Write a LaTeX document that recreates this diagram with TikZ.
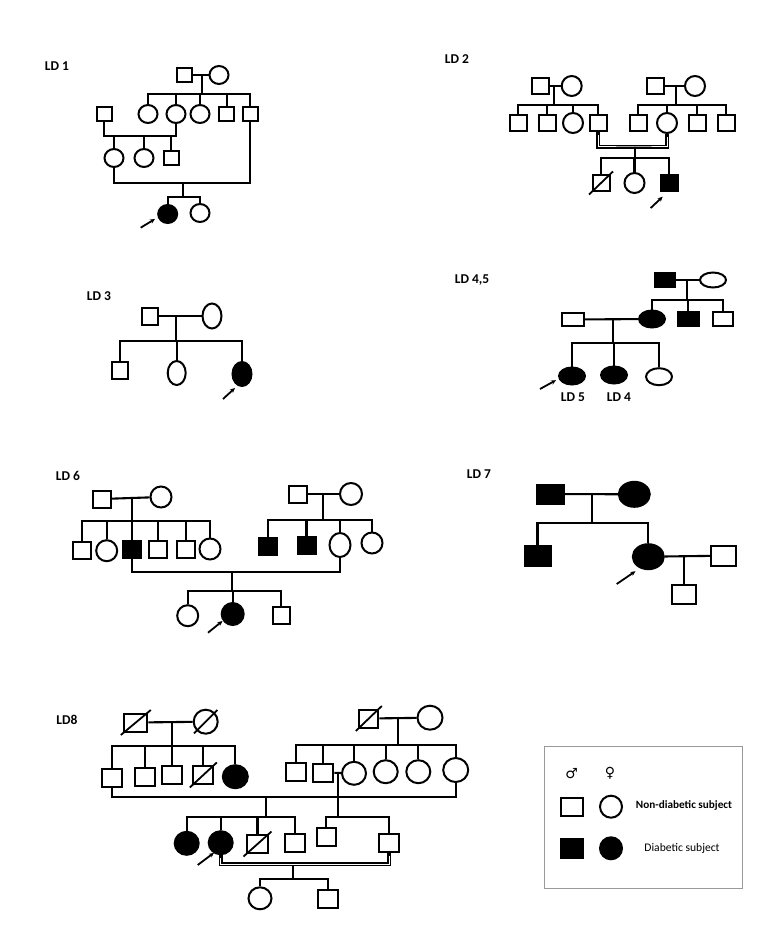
\documentclass[tikz,border=0pt]{standalone}
\usepackage{fontspec}
\setmainfont{Carlito}
\newfontfamily\symfont{DejaVu Sans}
\usetikzlibrary{shapes.geometric,calc,arrows.meta}
\tikzset{
 ln/.style={line width=2.1pt},
 thk/.style={line width=2.9pt},
 M/.style 2 args={draw, rectangle, line width=2pt, inner sep=0pt, minimum width=#1pt, minimum height=#2pt},
 F/.style 2 args={draw, ellipse, line width=2pt, inner sep=0pt, minimum width=#1pt, minimum height=#2pt},
 aff/.style={fill=black},
 lbl/.style={font=\bfseries\fontsize{13.5}{15}\selectfont, inner sep=0pt},
 arr/.style={line width=1.8pt, -{Stealth[length=5pt,width=4.5pt]}},
 dblo/.style={line width=3.8pt},
 dbli/.style={line width=1pt, white},
}
\newcommand\slashit[1]{\draw[line width=1.8pt] ($(#1.south west)+(-2.5,2.5)$) -- ($(#1.north east)+(2.5,-2.5)$);}
\begin{document}
\begin{tikzpicture}[x=1pt,y=-1pt]
\useasboundingbox (0,0) rectangle (778,944);
\fill[white] (0,0) rectangle (778,944);

% ================= LD 1 =================
\node[lbl] (t1) at (57,66) {LD 1};
\node[M={15}{14}] (g1m) at (184.5,75) {};
\node[F={19}{18}] (g1f) at (219,75) {};
\draw[ln] (g1m) -- (g1f);
\coordinate (g1d) at (201.7,75);
\coordinate (g1s) at (201.7,94);
\draw[ln] (g1d) -- (g1s);
\node[F={19}{18}] (a1) at (148,114) {};
\node[F={19}{18}] (a2) at (176,114) {};
\node[F={19}{18}] (a3) at (200,114) {};
\node[M={15}{14}] (a4) at (226.7,114) {};
\node[M={15}{14}] (a5) at (250,114) {};
\draw[ln] (a1.north) -- (a1.north |- g1s) -- (a5.north |- g1s) -- (a5.north);
\foreach \n in {a2,a3,a4} \draw[ln] (\n.north) -- (\n.north |- g1s);
\node[M={15}{14}] (h1) at (104,114) {};
\coordinate (m1) at (140,136);
\draw[ln] (h1.south) |- (m1) -| (a2.south);
\node[F={19}{18}] (b1) at (114,158) {};
\node[F={19}{18}] (b2) at (144,158) {};
\node[M={15}{14}] (b3) at (171,158) {};
\foreach \n in {b1,b2,b3} \draw[ln] (\n.north) -- (\n.north |- m1);
\coordinate (m2) at (183,183);
\draw[thk] (b1.south) |- (m2) -| (a5.south);
\coordinate (s2) at (183,197);
\draw[ln] (m2) -- (s2);
\node[F={19}{18},aff] (p1) at (167.7,214) {};
\node[F={19}{18}] (p2) at (200,213) {};
\draw[ln] (p1.north) |- (s2) -| (p2.north);
\coordinate (ar1) at (140.7,227.7);
\coordinate (ah1) at (155,219);
\draw[arr] (ar1) -- (ah1);

% ================= LD 2 =================
\node[lbl] (t2) at (457,59) {LD 2};
\node[M={17}{16}] (l2m) at (540,86) {};
\node[F={20}{20}] (l2f) at (571.7,86) {};
\draw[ln] (l2m) -- (l2f);
\coordinate (l2d) at (554,86);
\coordinate (l2s) at (554,105);
\draw[ln] (l2d) -- (l2s);
\node[M={17}{16}] (c1) at (518,123) {};
\node[M={17}{16}] (c2) at (547,123) {};
\node[F={20}{20}] (c3) at (573,123) {};
\node[M={17}{16}] (c4) at (598,123) {};
\draw[ln] (c1.north) -- (c1.north |- l2s) -- (c4.north |- l2s) -- (c4.north);
\foreach \n in {c2,c3} \draw[ln] (\n.north) -- (\n.north |- l2s);
\node[M={17}{16}] (r2m) at (655.5,86) {};
\node[F={20}{20}] (r2f) at (695,86) {};
\draw[ln] (r2m) -- (r2f);
\coordinate (r2d) at (676,86);
\coordinate (r2s) at (676,105);
\draw[ln] (r2d) -- (r2s);
\node[M={17}{16}] (d1) at (638,123) {};
\node[F={20}{20}] (d2) at (667,123) {};
\node[M={17}{16}] (d3) at (697,123) {};
\node[M={17}{16}] (d4) at (726,123) {};
\draw[ln] (d1.north) -- (d1.north |- r2s) -- (d4.north |- r2s) -- (d4.north);
\foreach \n in {d2,d3} \draw[ln] (\n.north) -- (\n.north |- r2s);
\coordinate (m3) at (635,147);
\draw[dblo] (c4.south) |- (m3) -| (d2.south);
\draw[dbli] ($(c4.south)+(0,3)$) |- (m3) -| ($(d2.south)+(0,3)$);
\coordinate (s3) at (635,158);
\draw[ln] (m3) ++(0,1.9) -- (s3);
\node[M={17}{16}] (e1) at (601,183) {};
\slashit{e1}
\node[F={20}{20}] (e2) at (634.5,183) {};
\node[M={17}{16},aff] (e3) at (669,183) {};
\draw[ln] (e1.north) |- (s3) -| (e3.north);
\draw[ln] (e2.north) -- (e2.north |- s3);
\coordinate (ar2) at (650.7,208);
\coordinate (ah2) at (662.7,196.7);
\draw[arr] (ar2) -- (ah2);

% ================= LD 3 =================
\node[lbl] (t3) at (99,296) {LD 3};
\node[M={16}{17}] (f3m) at (150,316) {};
\node[F={19}{25}] (f3f) at (212,316) {};
\draw[ln] (f3m) -- (f3f);
\coordinate (f3d) at (176,316);
\coordinate (f3s) at (176,341);
\draw[ln] (f3d) -- (f3s);
\node[M={16}{17}] (k1) at (120,370) {};
\node[F={18}{24}] (k2) at (176.7,373) {};
\node[F={19}{24},aff] (k3) at (242,374) {};
\draw[ln] (k1.north) |- (f3s) -| (k3.north);
\draw[ln] (k2.north) -- (k2.north |- f3s);
\coordinate (ar3) at (223,399);
\coordinate (ah3) at (235,388);
\draw[arr] (ar3) -- (ah3);

% ================= LD 4,5 =================
\node[lbl] (t4) at (472,280) {LD 4,5};
\node[M={20}{14},aff] (g4m) at (665,280) {};
\node[F={26}{15}] (g4f) at (713,280) {};
\draw[ln] (g4m) -- (g4f);
\coordinate (g4d) at (686.7,280);
\coordinate (g4s) at (686.7,300);
\draw[ln] (g4d) -- (g4s);
\node[F={26}{17},aff] (n1) at (652,319) {};
\node[M={21}{14},aff] (n2) at (688,319) {};
\node[M={20}{14}] (n3) at (723,319) {};
\draw[ln] (n1.north) |- (g4s) -| (n3.north);
\draw[ln] (n2.north) -- (n2.north |- g4s);
\node[M={22}{13}] (h4) at (573,319.5) {};
\draw[ln] (h4) -- (n1);
\coordinate (m4) at (612.7,319);
\coordinate (s4) at (612.7,343);
\draw[ln] (m4) -- (s4);
\node[F={26}{17},aff] (q1) at (572,376) {};
\node[F={26}{17},aff] (q2) at (614,375) {};
\node[F={26}{17}] (q3) at (659,376.7) {};
\draw[ln] (q1.north) |- (s4) -| (q3.north);
\draw[ln] (q2.north) -- (q2.north |- s4);
\node[lbl] (t5) at (573,397) {LD 5};
\node[lbl] (t4b) at (619,397) {LD 4};
\coordinate (ar4) at (540,389);
\coordinate (ah4) at (556,380.2);
\draw[arr] (ar4) -- (ah4);

% ================= LD 6 =================
\node[lbl] (t6) at (68,476) {LD 6};
\node[M={18}{17}] (l6m) at (101.7,499) {};
\node[F={21}{21}] (l6f) at (161,497) {};
\draw[ln] (l6m) -- (l6f);
\coordinate (l6d) at (131.7,498);
\coordinate (l6s) at (131.7,521);
\draw[ln] (l6d) -- (l6s);
\node[M={18}{17}] (u1) at (81.7,550) {};
\node[F={21}{21}] (u2) at (106.7,550.7) {};
\node[M={18}{17},aff] (u3) at (131.7,549.3) {};
\node[M={18}{17}] (u4) at (158,549) {};
\node[M={18}{17}] (u5) at (186,549) {};
\node[F={21}{21}] (u6) at (210,549) {};
\draw[ln] (u1.north) |- (l6s) -| (u6.north);
\foreach \n in {u2,u3,u4,u5} \draw[ln] (\n.north) -- (\n.north |- l6s);
\node[M={18}{17}] (r6m) at (298,494) {};
\node[F={22}{22}] (r6f) at (351,494) {};
\draw[ln] (r6m) -- (r6f);
\coordinate (r6d) at (323,494);
\coordinate (r6s) at (323,520);
\draw[ln] (r6d) -- (r6s);
\node[M={18}{17},aff] (v1) at (267.7,546) {};
\node[M={18}{17},aff] (v2) at (306.5,545) {};
\node[F={21}{24}] (v3) at (340,545) {};
\node[F={21}{21}] (v4) at (372,543) {};
\draw[ln] (v1.north) |- (r6s) -| (v4.north);
\foreach \n in {v2,v3} \draw[ln] (\n.north) -- (\n.north |- r6s);
\coordinate (m6) at (231.7,571.7);
\draw[ln] (u3.south) |- (m6) -| (v3.south);
\coordinate (s6) at (231.7,591);
\draw[ln] (m6) -- (s6);
\node[F={21}{21}] (w1) at (187.7,615.7) {};
\node[F={22}{22},aff] (w2) at (232.7,614) {};
\node[M={17}{17}] (w3) at (281,615) {};
\draw[ln] (w1.north) |- (s6) -| (w3.north);
\draw[ln] (w2.north) -- (w2.north |- s6);
\coordinate (ar6) at (208,632.7);
\coordinate (ah6) at (222.5,621);
\draw[arr] (ar6) -- (ah6);

% ================= LD 7 =================
\node[lbl] (t7) at (479,474) {LD 7};
\node[M={27}{19},aff] (g7m) at (550,494) {};
\node[F={31}{25},aff] (g7f) at (634.3,494.3) {};
\draw[ln] (g7m) -- (g7f);
\coordinate (g7d) at (592.3,495);
\coordinate (g7s) at (592.3,523.3);
\draw[ln] (g7d) -- (g7s);
\node[M={26}{20},aff] (x1) at (537.5,555.7) {};
\node[F={31}{25},aff] (x2) at (648.3,556.7) {};
\draw[ln] (x1.north) |- (g7s) -| (x2.north);
\node[M={25}{20}] (x3) at (723.3,555.7) {};
\draw[ln] (x2) -- (x3);
\coordinate (m7) at (684,555.7);
\node[M={24}{19}] (x4) at (684,594.5) {};
\draw[ln] (m7) -- (x4.north);
\coordinate (ar7) at (616.7,584);
\coordinate (ah7) at (635.5,571.2);
\draw[arr] (ar7) -- (ah7);

% ================= LD8 =================
\node[lbl] (t8) at (67,720) {LD8};
\node[M={23}{18}] (l8m) at (135.8,722.5) {};
\slashit{l8m}
\node[F={24}{24}] (l8f) at (205.7,721.7) {};
\slashit{l8f}
\draw[ln] (l8m) -- (l8f);
\coordinate (l8d) at (171.7,722.3);
\coordinate (l8s) at (171.7,746);
\draw[ln] (l8d) -- (l8s);
\node[M={20}{18}] (y1) at (111.7,778) {};
\node[M={20}{18}] (y2) at (145,777) {};
\node[M={20}{18}] (y3) at (172,775) {};
\node[M={20}{18}] (y4) at (203.3,775) {};
\slashit{y4}
\node[F={25}{23},aff] (y5) at (235.3,776.7) {};
\draw[ln] (y1.north) |- (l8s) -| (y5.north);
\foreach \n in {y2,y3,y4} \draw[ln] (\n.north) -- (\n.north |- l8s);
\node[M={19}{18}] (r8m) at (368.8,718.5) {};
\slashit{r8m}
\node[F={25}{24}] (r8f) at (430,717.7) {};
\draw[ln] (r8m) -- (r8f);
\coordinate (r8d) at (398.3,719);
\coordinate (r8s) at (398.3,745);
\draw[ln] (r8d) -- (r8s);
\node[M={20}{18}] (z1) at (296.3,771.7) {};
\node[M={20}{18}] (z2) at (323.3,772.5) {};
\node[F={24}{23}] (z3) at (354,773.3) {};
\node[F={24}{23}] (z4) at (385.7,771.7) {};
\node[F={24}{23}] (z5) at (418.3,771.7) {};
\node[F={25}{24}] (z6) at (455.7,770) {};
\draw[ln] (z1.north) |- (r8s) -| (z6.north);
\foreach \n in {z2,z3,z4,z5} \draw[ln] (\n.north) -- (\n.north |- r8s);
% main marriage
\coordinate (m8) at (266,796.7);
\draw[ln] (y1.south) |- (m8) -| (z6.south);
\coordinate (s8) at (266,816.7);
\draw[ln] (m8) -- (s8);
\node[F={24}{23},aff] (o1) at (186.7,843.3) {};
\node[F={24}{23},aff] (o2) at (220.7,842.7) {};
\node[M={21}{18}] (o3) at (257.5,844) {};
\slashit{o3}
\node[M={20}{18}] (o4) at (295,843) {};
\draw[ln] (o1.north) |- (s8) -| (o4.north);
\foreach \n in {o2,o3} \draw[ln] (\n.north) -- (\n.north |- s8);
% second marriage
\draw[ln] (z2) -- (z3);
\coordinate (m9) at (338.3,772.8);
\coordinate (s9) at (338.3,816.7);
\draw[ln] (m9) -- (s9);
\node[M={19}{18}] (o5) at (326.3,836.7) {};
\node[M={20}{18}] (o6) at (389.3,843) {};
\draw[ln] (o5.north) |- (s9) -| (o6.north);
% consanguineous marriage
\coordinate (m10) at (292.7,864);
\draw[dblo] (o2.south) |- (m10) -| (o6.south);
\draw[dbli] ($(o2.south)+(0,3)$) |- (m10) -| ($(o6.south)+(0,3)$);
\coordinate (s10) at (292.7,879.3);
\draw[ln] (m10) ++(0,1.9) -- (s10);
\node[F={23}{22}] (j1) at (260,898.3) {};
\node[M={20}{18}] (j2) at (328.3,898.5) {};
\draw[ln] (j1.north) |- (s10) -| (j2.north);
\coordinate (ar8) at (197.7,865);
\coordinate (ah8) at (214,852.8);
\draw[arr] (ar8) -- (ah8);

% ================= Legend =================
\node[draw=black!40, line width=1.2pt, minimum width=198pt, minimum height=142pt, inner sep=0pt] (leg) at (643.2,817.2) {};
\node[font=\symfont\bfseries\fontsize{14}{15}\selectfont, inner sep=0pt] (male) at (571.7,773.3) {♂};
\node[font=\symfont\bfseries\fontsize{14}{15}\selectfont, inner sep=0pt] (female) at (610,773.3) {♀};
\node[M={22}{18}] (lm1) at (571.8,807) {};
\node[F={22}{22}] (lf1) at (611,806.7) {};
\node[font=\bfseries\fontsize{11.2}{12}\selectfont, inner sep=0pt] (lt1) at (684,805.3) {Non-diabetic subject};
\node[M={22}{19},aff] (lm2) at (571.8,848.7) {};
\node[F={22}{22},aff] (lf2) at (611,848.3) {};
\node[font=\fontsize{11.6}{12}\selectfont, inner sep=0pt] (lt2) at (682,848.3) {Diabetic subject};
\end{tikzpicture}
\end{document}
